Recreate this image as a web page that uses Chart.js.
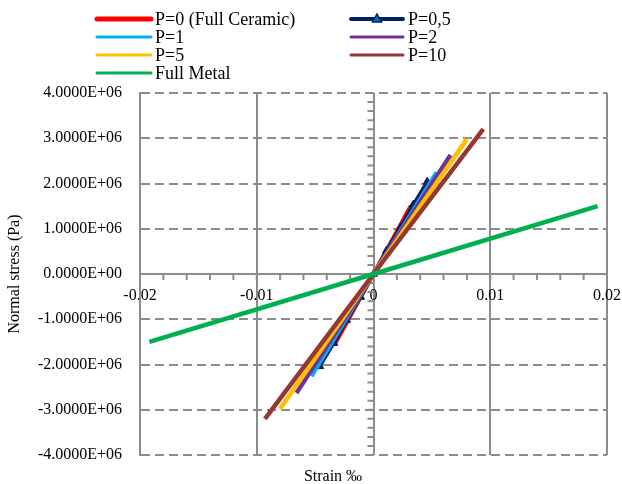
<!DOCTYPE html>
<html>
<head>
<meta charset="utf-8">
<script src="https://cdn.jsdelivr.net/npm/chart.js@4.4.1/dist/chart.umd.min.js"></script>
<style>
  html, body { margin: 0; padding: 0; background: #ffffff; }
  #wrap { width: 622px; height: 484px; }
</style>
</head>
<body>
<div id="wrap"><canvas id="c" width="622" height="484"></canvas></div>
<script>
// Stress–strain curves for an FGM plate, one series per power-law index
const seriesNames = ['P=0 (Full Ceramic)', 'P=0,5', 'P=1', 'P=2', 'P=5', 'P=10', 'Full Metal'];

// strain (‰) and normal stress (Pa) per series
const strainP0   = [-0.0033, 0, 0.0032];
const stressP0   = [-1.55e6, 0, 1.51e6];
const strainP05  = [-0.0046, -0.0034, -0.0023, -0.0011, 0, 0.0011, 0.0023, 0.0034, 0.0046];
const stressP05  = [-2.04e6, -1.53e6, -1.02e6, -0.51e6, 0, 0.51e6, 1.02e6, 1.53e6, 2.04e6];
const strainP1   = [-0.0053, 0, 0.0054];
const stressP1   = [-2.26e6, 0, 2.25e6];
const strainP2   = [-0.0066, 0, 0.0066];
const stressP2   = [-2.63e6, 0, 2.63e6];
const strainP5   = [-0.0080, 0, 0.0080];
const stressP5   = [-2.98e6, 0, 2.98e6];
const strainP10  = [-0.0093, 0, 0.0094];
const stressP10  = [-3.2e6, 0, 3.2e6];
const strainMetal = [-0.0192, 0, 0.0192];
const stressMetal = [-1.5e6, 0, 1.5e6];

const xTickValues = [-0.02, -0.01, 0, 0.01, 0.02];
const xTickLabels = ['-0.02', '-0.01', '0', '0.01', '0.02'];

const colors = ['#FF0000', '#002060', '#00B0F0', '#7030A0', '#FFC000', '#953735', '#00B050'];
const widths = [4, 3.5, 4, 4.5, 4.5, 4.5, 4.5];

const FONT = "'Liberation Serif', 'Times New Roman', serif";

function pts(xs, ys) { return xs.map((x, i) => ({ x: x, y: ys[i] })); }

function sci(v) {
  if (Math.abs(v) < 1e-9) return '0.0000E+00';
  const parts = v.toExponential(4).split('e');
  const sign = parts[1][0];
  const exp = parts[1].slice(1).padStart(2, '0');
  return parts[0] + 'E' + sign + exp;
}

const allData = [
  pts(strainP0, stressP0), pts(strainP05, stressP05), pts(strainP1, stressP1),
  pts(strainP2, stressP2), pts(strainP5, stressP5), pts(strainP10, stressP10),
  pts(strainMetal, stressMetal)
];

const datasets = seriesNames.map((name, i) => ({
  label: name,
  data: allData[i],
  borderColor: colors[i],
  backgroundColor: colors[i],
  borderWidth: widths[i],
  pointRadius: i === 1 ? 4.5 : 0,
  pointStyle: 'triangle',
  pointBackgroundColor: '#002060',
  pointBorderColor: '#002060',
  pointBorderWidth: 1,
  tension: 0,
  order: seriesNames.length - i
}));

// minor tick marks along the two zero axes
const minorTicks = {
  id: 'minorTicks',
  beforeDatasetsDraw(chart) {
    const { ctx, scales: { x, y } } = chart;
    const y0 = y.getPixelForValue(0);
    const x0 = x.getPixelForValue(0);
    ctx.save();
    ctx.strokeStyle = '#8c8c8c';
    ctx.lineWidth = 2;
    ctx.beginPath();
    for (let k = -20; k <= 20; k += 2) {
      const px = x.getPixelForValue(k / 1000);
      ctx.moveTo(px, y0);
      ctx.lineTo(px, y0 + 6);
    }
    for (let k = -40; k <= 40; k += 2) {
      const py = y.getPixelForValue(k * 1e5);
      ctx.moveTo(x0 - 6, py);
      ctx.lineTo(x0, py);
    }
    ctx.stroke();
    ctx.restore();
  }
};

// two-column legend and axis titles
const legendAndTitles = {
  id: 'legendAndTitles',
  afterDraw(chart) {
    const ctx = chart.ctx;
    const ds = chart.data.datasets;
    const cols = [{ x1: 97, x2: 151, tx: 155 }, { x1: 351, x2: 403, tx: 408 }];
    const rows = [19, 37, 55, 73];
    ctx.save();
    ctx.font = '18px ' + FONT;
    ctx.textBaseline = 'middle';
    ctx.textAlign = 'left';
    ds.forEach((d, i) => {
      const col = cols[i % 2];
      const ry = rows[Math.floor(i / 2)];
      ctx.strokeStyle = d.borderColor;
      ctx.lineWidth = i === 0 ? 5 : (i === 1 ? 4 : 3);
      ctx.lineCap = 'round';
      ctx.beginPath();
      ctx.moveTo(col.x1, ry);
      ctx.lineTo(col.x2, ry);
      ctx.stroke();
      if (i === 1) {
        const cx = (col.x1 + col.x2) / 2;
        ctx.fillStyle = '#0070C0';
        ctx.strokeStyle = '#002060';
        ctx.lineWidth = 1.5;
        ctx.beginPath();
        ctx.moveTo(cx, ry - 5);
        ctx.lineTo(cx + 4.5, ry + 3);
        ctx.lineTo(cx - 4.5, ry + 3);
        ctx.closePath();
        ctx.fill();
        ctx.stroke();
      }
      ctx.fillStyle = '#000';
      ctx.fillText(d.label, col.tx, ry + 1);
    });

    ctx.font = '16px ' + FONT;
    ctx.textAlign = 'center';
    ctx.fillText('Strain ‰', 333, 477);
    ctx.translate(15, 274);
    ctx.rotate(-Math.PI / 2);
    ctx.fillText('Normal stress (Pa)', 0, 0);
    ctx.restore();
  }
};

Chart.defaults.font.family = FONT;
Chart.defaults.font.size = 16;
Chart.defaults.color = '#000';

new Chart(document.getElementById('c'), {
  type: 'line',
  data: { datasets: datasets },
  plugins: [minorTicks, legendAndTitles],
  options: {
    responsive: false,
    animation: false,
    devicePixelRatio: 1,
    layout: { padding: { left: 0, top: 93, right: 15, bottom: 29 } },
    plugins: { legend: { display: false }, tooltip: { enabled: false } },
    scales: {
      x: {
        type: 'linear',
        position: { y: 0 },
        min: -0.02,
        max: 0.02,
        afterBuildTicks(scale) { scale.ticks = xTickValues.map(v => ({ value: v })); },
        afterFit(scale) { scale.paddingLeft = 0; scale.paddingRight = 0; },
        ticks: {
          autoSkip: false,
          maxRotation: 0,
          padding: 12,
          font: { size: 16 },
          callback(v) {
            const idx = xTickValues.findIndex(t => Math.abs(t - v) < 1e-9);
            return idx >= 0 ? xTickLabels[idx] : '';
          }
        },
        grid: { color: '#8c8c8c', lineWidth: 2, drawTicks: false },
        border: { display: true, color: '#8c8c8c', width: 2 }
      },
      y: {
        type: 'linear',
        position: 'left',
        min: -4e6,
        max: 4e6,
        afterFit(scale) { scale.width = 140; },
        ticks: { stepSize: 1e6, padding: 18, font: { size: 16 }, callback: v => sci(v) },
        grid: { color: '#8c8c8c', lineWidth: 2, drawTicks: false },
        border: { display: true, color: '#8c8c8c', width: 2, dash: [9, 5] }
      }
    }
  }
});
</script>
</body>
</html>
